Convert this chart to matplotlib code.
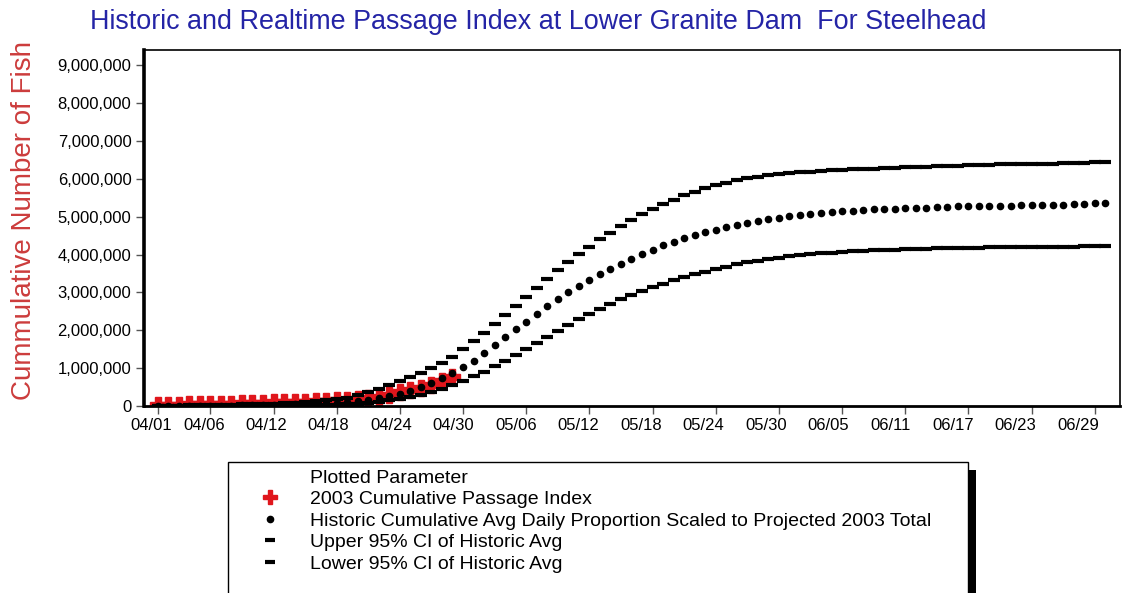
import numpy as np
import pandas as pd
import matplotlib
matplotlib.use("Agg")
import matplotlib.pyplot as plt
import matplotlib.transforms as mtransforms
from matplotlib.lines import Line2D
from matplotlib.patches import Rectangle
from matplotlib.ticker import FuncFormatter

plt.rcParams["font.family"] = ["Liberation Sans", "DejaVu Sans"]

# daily values from 04/01/2003, in millions of fish
start_date = pd.Timestamp("2003-04-01")

passage_2003 = [
    0.02, 0.03, 0.035, 0.04, 0.045, 0.05, 0.055, 0.06, 0.07, 0.08,
    0.09, 0.095, 0.10, 0.105, 0.11, 0.12, 0.135, 0.15, 0.17, 0.19,
    0.215, 0.25, 0.30, 0.36, 0.42, 0.48, 0.56, 0.65, 0.76,
]

hist_avg = [
    0.00, 0.00, 0.00, 0.01, 0.01, 0.01, 0.01, 0.01, 0.02, 0.02,
    0.02, 0.03, 0.03, 0.04, 0.05, 0.06, 0.07, 0.09, 0.11, 0.14,
    0.17, 0.21, 0.26, 0.32, 0.40, 0.49, 0.60, 0.73, 0.87, 1.03,
    1.20, 1.40, 1.60, 1.81, 2.02, 2.23, 2.44, 2.64, 2.83, 3.01,
    3.17, 3.33, 3.48, 3.62, 3.76, 3.89, 4.01, 4.13, 4.24, 4.34,
    4.43, 4.51, 4.59, 4.66, 4.73, 4.79, 4.84, 4.89, 4.93, 4.97,
    5.01, 5.04, 5.07, 5.10, 5.12, 5.14, 5.16, 5.18, 5.19, 5.20,
    5.21, 5.22, 5.23, 5.24, 5.25, 5.26, 5.27, 5.27, 5.28, 5.28,
    5.29, 5.29, 5.30, 5.30, 5.31, 5.32, 5.32, 5.33, 5.34, 5.35, 5.35,
]

upper_ci = [
    0.01, 0.01, 0.01, 0.02, 0.02, 0.02, 0.03, 0.03, 0.04, 0.04,
    0.05, 0.06, 0.07, 0.08, 0.10, 0.12, 0.15, 0.18, 0.22, 0.28,
    0.38, 0.46, 0.56, 0.66, 0.77, 0.88, 1.00, 1.13, 1.30, 1.50,
    1.71, 1.93, 2.16, 2.40, 2.64, 2.88, 3.12, 3.35, 3.58, 3.80,
    4.01, 4.21, 4.40, 4.58, 4.75, 4.91, 5.06, 5.20, 5.33, 5.45,
    5.56, 5.66, 5.75, 5.83, 5.90, 5.96, 6.01, 6.05, 6.09, 6.12,
    6.15, 6.17, 6.19, 6.21, 6.23, 6.24, 6.25, 6.26, 6.27, 6.28,
    6.29, 6.30, 6.31, 6.32, 6.33, 6.34, 6.35, 6.36, 6.37, 6.37,
    6.38, 6.38, 6.39, 6.39, 6.40, 6.40, 6.41, 6.41, 6.42, 6.43, 6.44,
]

lower_ci = [
    0.00, 0.00, 0.00, 0.00, 0.00, 0.00, 0.00, 0.01, 0.01, 0.01,
    0.01, 0.01, 0.01, 0.02, 0.02, 0.02, 0.03, 0.03, 0.04, 0.05,
    0.08, 0.11, 0.15, 0.19, 0.24, 0.30, 0.37, 0.45, 0.55, 0.66,
    0.78, 0.91, 1.05, 1.19, 1.34, 1.50, 1.66, 1.82, 1.98, 2.14,
    2.29, 2.43, 2.57, 2.70, 2.82, 2.93, 3.04, 3.14, 3.23, 3.32,
    3.40, 3.48, 3.55, 3.62, 3.68, 3.74, 3.79, 3.84, 3.88, 3.92,
    3.95, 3.98, 4.01, 4.03, 4.05, 4.07, 4.09, 4.10, 4.11, 4.12,
    4.13, 4.14, 4.15, 4.15, 4.16, 4.17, 4.17, 4.18, 4.18, 4.19,
    4.19, 4.19, 4.20, 4.20, 4.20, 4.21, 4.21, 4.21, 4.22, 4.22, 4.22,
]

tick_labels = ["04/01", "04/06", "04/12", "04/18", "04/24", "04/30",
               "05/06", "05/12", "05/18", "05/24", "05/30", "06/05",
               "06/11", "06/17", "06/23", "06/29"]

legend_labels = [
    "Plotted Parameter",
    "2003 Cumulative Passage Index",
    "Historic Cumulative Avg Daily Proportion Scaled to Projected 2003 Total",
    "Upper 95% CI of Historic Avg",
    "Lower 95% CI of Historic Avg",
]

RED = "#e0161c"
TITLE_BLUE = "#2424a6"
YLABEL_RED = "#cc3c3c"

fig = plt.figure(figsize=(11.25, 5.93), dpi=100)
ax = fig.add_axes([144 / 1125, 1 - 406 / 593, 976 / 1125, 356 / 593])

day_avg = np.arange(len(hist_avg))
day_2003 = np.arange(len(passage_2003))
scale = 1e6

ax.plot(day_2003, np.array(passage_2003) * scale, linestyle="none",
        marker="P", markersize=11, color=RED, zorder=2)
ax.plot(day_avg, np.array(upper_ci) * scale, linestyle="none",
        marker="_", markersize=8.5, markeredgewidth=3, color="black", zorder=3)
ax.plot(day_avg, np.array(lower_ci) * scale, linestyle="none",
        marker="_", markersize=8.5, markeredgewidth=3, color="black", zorder=3)
ax.plot(day_avg, np.array(hist_avg) * scale, linestyle="none",
        marker="o", markersize=4.5, color="black", zorder=3)

ax.set_xlim(-1.3, 91.4)
ax.set_ylim(0, 9.4e6)

tick_days = [(pd.Timestamp("2003/" + t) - start_date).days for t in tick_labels]
ax.set_xticks(tick_days)
ax.set_xticklabels(tick_labels)
ax.set_yticks(np.arange(0, 9.5e6, 1e6))
ax.yaxis.set_major_formatter(FuncFormatter(lambda v, p: f"{v:,.0f}"))

ax.tick_params(axis="both", direction="out", length=6, width=1,
               color="#555555", labelsize=12, labelcolor="black", pad=3)
for d, lbl in zip(tick_days, ax.get_xticklabels()):
    shift = -(6 + 0.12 * d) / 100.0
    lbl.set_transform(lbl.get_transform()
                      + mtransforms.ScaledTranslation(shift, 0, fig.dpi_scale_trans))

ax.spines["left"].set_linewidth(2.6)
ax.spines["bottom"].set_linewidth(2.0)
ax.spines["top"].set_linewidth(1.2)
ax.spines["right"].set_linewidth(1.2)
for s in ax.spines.values():
    s.set_color("black")

ax.set_ylabel("Cummulative Number of Fish", fontsize=20, color=YLABEL_RED)
ax.yaxis.set_label_coords(-0.11, 0.52)

fig.text(538 / 1125, 1 - 22 / 593,
         "Historic and Realtime Passage Index at Lower Granite Dam  For Steelhead",
         ha="center", va="center", fontsize=19.4, color=TITLE_BLUE)

# legend frame with a hard black shadow, running off the bottom edge
fig.patches.append(Rectangle((236 / 1125, -0.05), 740 / 1125, 1 - 470 / 593 + 0.05,
                             transform=fig.transFigure, facecolor="black",
                             edgecolor="none", zorder=0))
fig.patches.append(Rectangle((228 / 1125, -0.05), 740 / 1125, 1 - 462 / 593 + 0.05,
                             transform=fig.transFigure, facecolor="white",
                             edgecolor="black", linewidth=1, zorder=1))

handles = [
    Line2D([], [], linestyle="none"),
    Line2D([], [], linestyle="none", marker="P", markersize=10, color=RED),
    Line2D([], [], linestyle="none", marker="o", markersize=4.5, color="black"),
    Line2D([], [], linestyle="none", marker="_", markersize=7.5,
           markeredgewidth=3, color="black"),
    Line2D([], [], linestyle="none", marker="_", markersize=7.5,
           markeredgewidth=3, color="black"),
]
leg = fig.legend(handles, legend_labels, loc="upper left",
                 bbox_to_anchor=(258 / 1125, 1 - 469 / 593),
                 frameon=False, fontsize=14, labelspacing=0.2,
                 handlelength=1.2, handletextpad=1.5, borderpad=0,
                 borderaxespad=0)
leg.set_zorder(5)

fig.savefig("out.png", dpi=100)
